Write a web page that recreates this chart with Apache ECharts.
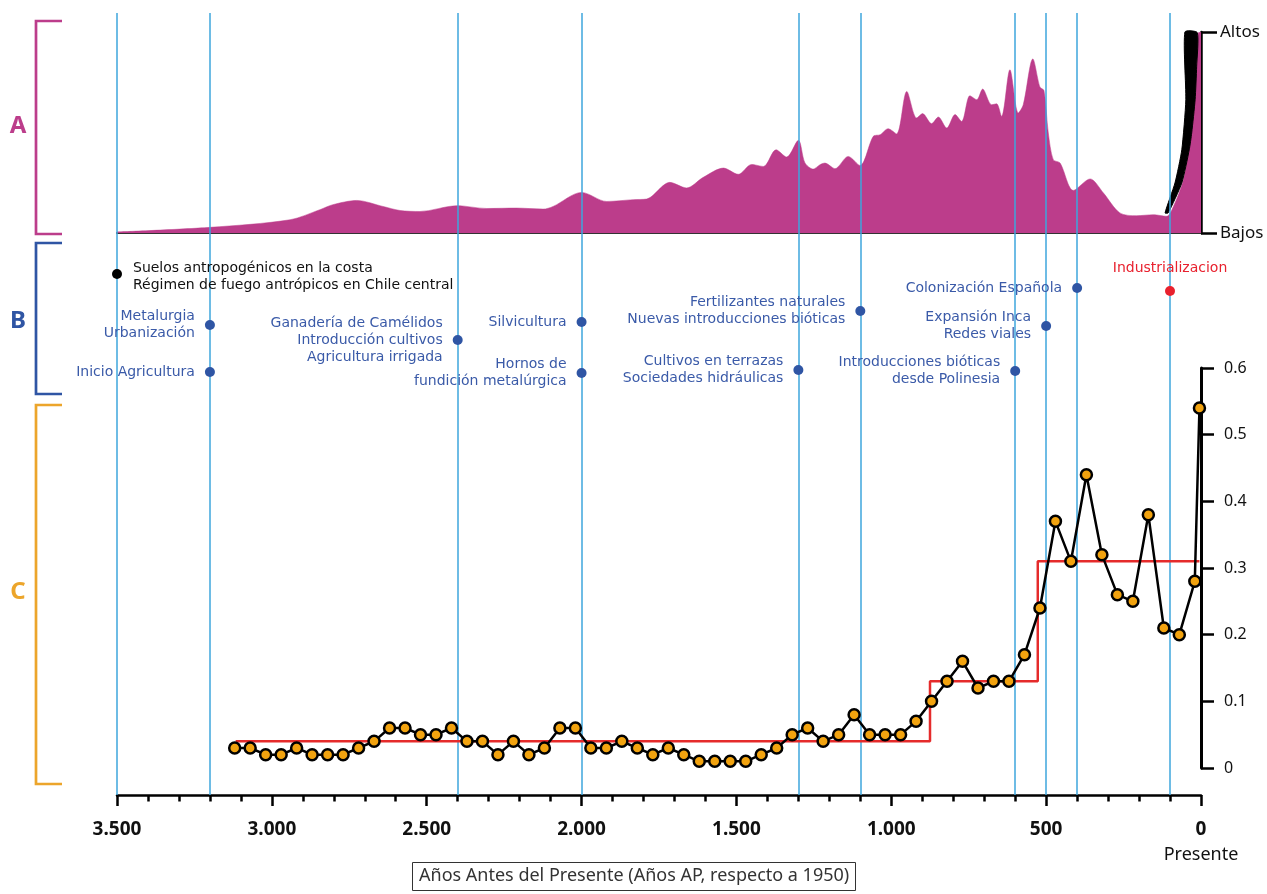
<!DOCTYPE html>
<html><head><meta charset="utf-8">
<script src="https://cdn.jsdelivr.net/npm/echarts@6/dist/echarts.min.js"></script>
<style>html,body{margin:0;padding:0;background:#fff}#c{width:1267px;height:894px}</style>
</head><body><div id="c"></div>
<script>
// ---- Data ----
const eventLines = [3500, 3200, 2400, 2000, 1300, 1100, 600, 500, 400, 100];

// Panel A: relative anthropogenic impact (0 = Bajos, 100 = Altos)
const areaYears = [3500, 3200, 2941, 2845, 2803, 2726, 2641, 2586, 2522, 2403, 2306, 2210, 2124, 2092, 2000, 1919, 1833, 1790, 1715, 1661, 1607, 1542, 1494, 1451, 1413, 1372, 1338, 1300, 1279, 1252, 1230, 1214, 1182, 1139, 1101, 1058, 1036, 1010, 983, 950, 918, 899, 870, 848, 821, 794, 773, 746, 724, 705, 676, 660, 644, 617, 590, 574, 543, 520, 507, 493, 477, 455, 412, 358, 315, 262, 208, 154, 111, 89, 57, 36, 19, 9, 0];
const areaLevels = [0.5, 2.8, 6.6, 11.6, 14.1, 16.2, 13.2, 11.2, 10.7, 13.6, 12.2, 12.4, 11.9, 13.2, 20.2, 15.7, 16.6, 16.9, 25.2, 22.4, 27.7, 32.3, 29.2, 34.1, 33.1, 41.4, 37.8, 46.1, 35, 31.8, 34, 34.8, 32, 38.1, 33.6, 48.1, 48.9, 51.9, 49.3, 70.4, 57.2, 59.4, 54.4, 57.7, 52.2, 58.9, 55.5, 68.3, 66.3, 71.6, 63.8, 64.3, 58, 81.2, 59.7, 63.8, 86.6, 72.6, 70.9, 49.8, 36.5, 34.8, 21.2, 26.9, 19.9, 10, 8.6, 9.1, 8.3, 13.2, 26.5, 46.4, 74.6, 99.5, 100];
const wedgeYears = [116, 84, 62, 49, 52, 12, 14, 19, 30, 38, 62, 106];
const wedgeLevels = [10, 24.9, 41.4, 66.3, 100, 99.7, 82.9, 66.3, 49.8, 41.4, 24.9, 10];

// Panel B: events
const eventYearsB = [3500, 3200, 3200, 2400, 2000, 2000, 1300, 1100, 600, 500, 400, 100];
const eventRowsB = [34, 85, 132, 100, 82, 133, 130, 71, 131, 86, 48, 51];
const eventLabelsB = [
  'Suelos antropogénicos en la costa\nRégimen de fuego antrópicos en Chile central',
  'Metalurgia\nUrbanización',
  'Inicio Agricultura',
  'Ganadería de Camélidos\nIntroducción cultivos\nAgricultura irrigada',
  'Silvicultura',
  'Hornos de\nfundición metalúrgica',
  'Cultivos en terrazas\nSociedades hidráulicas',
  'Fertilizantes naturales\nNuevas introducciones bióticas',
  'Introducciones bióticas\ndesde Polinesia',
  'Expansión Inca\nRedes viales',
  'Colonización Española',
  'Industrializacion'
];
const eventKindsB = ['right', 'left', 'left', 'left', 'left', 'left', 'left', 'left', 'left', 'left', 'left', 'top'];

// Panel C
const sampleYears = [3120, 3070, 3020, 2970, 2920, 2870, 2820, 2770, 2720, 2670, 2620, 2570, 2520, 2470, 2420, 2370, 2320, 2270, 2220, 2170, 2120, 2070, 2020, 1970, 1920, 1870, 1820, 1770, 1720, 1670, 1620, 1570, 1520, 1470, 1420, 1370, 1320, 1270, 1220, 1170, 1120, 1070, 1020, 970, 920, 870, 820, 770, 720, 670, 620, 570, 520, 470, 420, 370, 320, 270, 220, 170, 120, 70, 20, 5];
const sampleValues = [0.03, 0.03, 0.02, 0.02, 0.03, 0.02, 0.02, 0.02, 0.03, 0.04, 0.06, 0.06, 0.05, 0.05, 0.06, 0.04, 0.04, 0.02, 0.04, 0.02, 0.03, 0.06, 0.06, 0.03, 0.03, 0.04, 0.03, 0.02, 0.03, 0.02, 0.01, 0.01, 0.01, 0.01, 0.02, 0.03, 0.05, 0.06, 0.04, 0.05, 0.08, 0.05, 0.05, 0.05, 0.07, 0.10, 0.13, 0.16, 0.12, 0.13, 0.13, 0.17, 0.24, 0.37, 0.31, 0.44, 0.32, 0.26, 0.25, 0.38, 0.21, 0.20, 0.28, 0.54];
const stepYears = [3117, 875, 875, 527, 527, 5];
const stepValues = [0.04, 0.04, 0.13, 0.13, 0.31, 0.31];

const xTickStep = 500;
const cTicks = [0, 0.1, 0.2, 0.3, 0.4, 0.5, 0.6];

// ---- Styles ----
const MAGENTA = '#bc3d8b', BLUE = '#2f55a4', BLUE_TXT = '#3a5aa8', ORANGE = '#eca52b', LINEBLUE = '#3ea6dc';
const FONT = 'Noto Sans';

const chart = echarts.init(document.getElementById('c'), null, {renderer: 'canvas'});
const L = 117, R = 66;

function hiddenX(gi, extra) {
  return Object.assign({type: 'value', gridIndex: gi, min: 0, max: 3500, inverse: true, show: false}, extra || {});
}
const thousands = v => String(v).replace(/\B(?=(\d{3})+(?!\d))/g, '.');

const bData = eventYearsB.map((y, i) => {
  const kind = eventKindsB[i];
  let color = BLUE, label;
  const base = {show: true, formatter: eventLabelsB[i], fontFamily: 'DejaVu Sans', fontSize: 14, lineHeight: 17, opacity: 1};
  if (kind === 'right') {
    color = '#000';
    label = Object.assign(base, {position: 'right', distance: 11, color: '#111', offset: [0, 3]});
  } else if (kind === 'top') {
    color = '#e8212e';
    label = Object.assign(base, {position: 'top', distance: 9, color: '#e8212e'});
  } else {
    label = Object.assign(base, {position: 'left', distance: 10, color: BLUE_TXT, align: 'right'});
  }
  return {value: [y, eventRowsB[i]], itemStyle: {color, opacity: 1}, label};
});

const option = {
  animation: false,
  backgroundColor: '#fff',
  title: {
    text: 'Años Antes del Presente (Años AP, respecto a 1950)',
    left: 412, top: 862,
    padding: [5, 7, 6, 7],
    borderColor: '#333', borderWidth: 1,
    textStyle: {fontFamily: FONT, fontSize: 18, fontWeight: 'normal', color: '#333'}
  },
  grid: [
    {left: L, right: R, top: 13, bottom: 99},        // 0 main timeline axis
    {left: L, right: R, top: 32, height: 201},        // 1 panel A
    {left: L, right: R, top: 240, height: 160},       // 2 panel B
    {left: L, right: R, top: 368, bottom: 126}        // 3 panel C
  ],
  xAxis: [
    {
      type: 'value', gridIndex: 0, min: 0, max: 3500, inverse: true, interval: xTickStep,
      axisLine: {show: true, lineStyle: {color: '#000', width: 2.5}},
      axisTick: {show: true, length: 11, lineStyle: {color: '#000', width: 2.5}},
      minorTick: {show: true, splitNumber: 5, length: 6.5, lineStyle: {color: '#000', width: 2.5}},
      splitLine: {show: false},
      axisLabel: {
        margin: 23,
        formatter: v => v === 0 ? '{b|0}\n{p|Presente}' : '{b|' + thousands(v) + '}',
        rich: {
          b: {fontFamily: FONT, fontSize: 19, fontWeight: 'bold', color: '#111', lineHeight: 24},
          p: {fontFamily: FONT, fontSize: 18, fontWeight: 'normal', color: '#111', lineHeight: 26}
        }
      }
    },
    hiddenX(1, {show: true, axisLine: {show: true, onZero: false, lineStyle: {color: '#333', width: 2}}, axisTick: {show: false}, axisLabel: {show: false}, splitLine: {show: false}}),
    hiddenX(2),
    hiddenX(3)
  ],
  yAxis: [
    {type: 'value', gridIndex: 0, min: 0, max: 1, show: false},
    {
      type: 'value', gridIndex: 1, min: 0, max: 100, interval: 100, position: 'right',
      axisLine: {show: true, lineStyle: {color: '#000', width: 2.5}},
      axisTick: {show: true, length: 16, lineStyle: {color: '#000', width: 2.5}},
      splitLine: {show: false},
      axisLabel: {margin: 19, fontFamily: FONT, fontSize: 17, color: '#111',
        formatter: v => v === 100 ? 'Altos' : (v === 0 ? 'Bajos' : '')}
    },
    {type: 'value', gridIndex: 2, min: 0, max: 160, inverse: true, show: false},
    {
      type: 'value', gridIndex: 3, min: cTicks[0], max: cTicks[cTicks.length - 1], interval: 0.1, position: 'right',
      axisLine: {show: true, lineStyle: {color: '#000', width: 3}},
      axisTick: {show: true, length: 13, lineStyle: {color: '#000', width: 2.5}},
      splitLine: {show: false},
      axisLabel: {margin: 23, fontFamily: FONT, fontSize: 16, color: '#111',
        formatter: v => v === 0 ? '0' : v.toFixed(1)}
    }
  ],
  series: [
    // Panel A area
    {
      type: 'line', xAxisIndex: 1, yAxisIndex: 1, z: 2,
      data: areaYears.map((y, i) => [y, areaLevels[i]]),
      smooth: 0.3, symbol: 'none',
      lineStyle: {width: 0.5, color: MAGENTA},
      areaStyle: {color: MAGENTA, opacity: 1}
    },
    // Event vertical lines
    {
      type: 'line', xAxisIndex: 0, yAxisIndex: 0, z: 3,
      data: [], symbol: 'none',
      markLine: {
        silent: true, symbol: 'none', animation: false,
        label: {show: false},
        lineStyle: {color: LINEBLUE, width: 1.5, type: 'solid'},
        emphasis: {disabled: true},
        data: eventLines.map(v => ({xAxis: v}))
      }
    },
    // Black wedge (modern rise)
    {
      type: 'custom', xAxisIndex: 1, yAxisIndex: 1, z: 4,
      data: [[wedgeYears[0], wedgeLevels[0]]],
      renderItem: (params, api) => ({
        type: 'polygon',
        shape: {points: wedgeYears.map((y, i) => api.coord([y, wedgeLevels[i]])), smooth: 0.2},
        style: {fill: '#000', stroke: '#000', lineWidth: 1}
      })
    },
    // Panel B events
    {
      type: 'scatter', xAxisIndex: 2, yAxisIndex: 2, z: 5,
      symbolSize: 10, itemStyle: {opacity: 1}, data: bData
    },
    // Panel C step
    {
      type: 'line', xAxisIndex: 3, yAxisIndex: 3, z: 6,
      data: stepYears.map((y, i) => [y, stepValues[i]]),
      symbol: 'none', lineStyle: {color: '#e52b2b', width: 2.5}
    },
    // Panel C samples
    {
      type: 'line', xAxisIndex: 3, yAxisIndex: 3, z: 7,
      data: sampleYears.map((y, i) => [y, sampleValues[i]]),
      symbol: 'circle', symbolSize: 11, showAllSymbol: true,
      lineStyle: {color: '#000', width: 2.5},
      itemStyle: {color: '#f2a30f', borderColor: '#000', borderWidth: 2.5}
    }
  ],
  graphic: [
    {type: 'polyline', shape: {points: [[62, 21], [36, 21], [36, 234], [62, 234]]}, style: {stroke: MAGENTA, lineWidth: 2.7, fill: null}},
    {type: 'polyline', shape: {points: [[62, 243], [36, 243], [36, 394], [62, 394]]}, style: {stroke: BLUE, lineWidth: 2.7, fill: null}},
    {type: 'polyline', shape: {points: [[62, 405], [36, 405], [36, 784], [62, 784]]}, style: {stroke: ORANGE, lineWidth: 2.7, fill: null}},
    {type: 'text', x: 18, y: 126, style: {text: 'A', fill: MAGENTA, font: 'bold 24px "Noto Sans"', textAlign: 'center', textVerticalAlign: 'middle'}},
    {type: 'text', x: 18, y: 321, style: {text: 'B', fill: BLUE, font: 'bold 24px "Noto Sans"', textAlign: 'center', textVerticalAlign: 'middle'}},
    {type: 'text', x: 18, y: 592, style: {text: 'C', fill: ORANGE, font: 'bold 24px "Noto Sans"', textAlign: 'center', textVerticalAlign: 'middle'}}
  ]
};
chart.setOption(option);
</script>
</body></html>
